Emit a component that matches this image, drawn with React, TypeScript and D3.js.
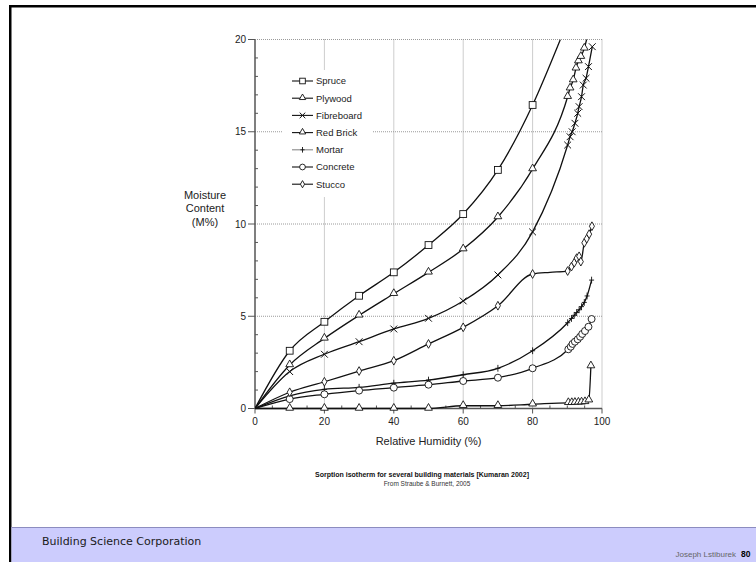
import React from 'react';
import * as d3 from 'd3';

// [relative humidity %, moisture content %, marker shown 1/0]
const spruce: number[][] = [[0,0,0],[10,3.13,1],[20,4.7,1],[30,6.11,1],[40,7.38,1],[50,8.86,1],[60,10.54,1],[70,12.93,1],[80,16.45,1],[88,20,0]];
const plywood: number[][] = [[0,0,0],[10,2.36,1],[20,3.8,1],[30,5.05,1],[40,6.22,1],[50,7.38,1],[60,8.64,1],[70,10.38,1],[80,12.98,1],[90.1,16.9,1],[90.8,17.36,1],[91.7,17.8,1],[92.5,18.44,1],[93.2,18.83,1],[93.9,19.07,1],[94.9,19.52,1],[95.6,20.03,0]];
const fibreboard: number[][] = [[0,0,0],[10,2.0,1],[20,2.94,1],[30,3.62,1],[40,4.31,1],[50,4.89,1],[60,5.83,1],[70,7.24,1],[80,9.57,1],[90.1,14.28,1],[90.8,14.73,1],[91.4,15.0,1],[92.2,15.46,1],[93.0,16.0,1],[93.4,16.36,1],[94.1,16.9,1],[94.6,17.53,1],[95.4,17.9,1],[96.1,18.53,1],[97.2,19.61,1]];
const redBrick: number[][] = [[0,0,0],[10,0,1],[20,0,1],[30,0,1],[40,0,1],[50,0,1],[60,0.15,1],[70,0.15,1],[80,0.23,1],[90.3,0.31,1],[91.3,0.31,1],[92.2,0.32,1],[93.2,0.33,1],[94.1,0.34,1],[95.1,0.36,1],[96.2,0.45,1],[96.8,2.3,1]];
const mortar: number[][] = [[0,0,0],[10,0.69,1],[20,1.04,1],[30,1.15,1],[40,1.37,1],[50,1.54,1],[60,1.83,1],[70,2.18,1],[80,3.13,1],[90.1,4.65,1],[91.2,4.88,1],[92.0,5.05,1],[92.7,5.2,1],[93.4,5.35,1],[94.1,5.52,1],[94.9,5.75,1],[95.7,6.1,1],[97.0,6.96,1]];
const concrete: number[][] = [[0,0,0],[10,0.51,1],[20,0.77,1],[30,0.97,1],[40,1.13,1],[50,1.29,1],[60,1.49,1],[70,1.67,1],[80,2.18,1],[90.3,3.21,1],[91.0,3.35,1],[91.5,3.5,1],[92.2,3.62,1],[93.0,3.75,1],[93.7,3.89,1],[94.3,4.04,1],[95.1,4.2,1],[96.1,4.43,1],[97.0,4.85,1]];
const stucco: number[][] = [[0,0,0],[10,0.88,1],[20,1.45,1],[30,2.03,1],[40,2.59,1],[50,3.5,1],[60,4.4,1],[70,5.57,1],[80,7.29,1],[85,7.38,0],[90.1,7.45,1],[91.2,7.69,1],[92.0,7.9,1],[92.7,8.15,1],[93.4,8.25,1],[93.9,7.96,1],[94.9,8.98,1],[95.6,9.2,1],[96.3,9.45,1],[97.1,9.88,1]];

const seriesNames = ['Spruce','Plywood','Fibreboard','Red Brick','Mortar','Concrete','Stucco'];
const seriesData = [spruce, plywood, fibreboard, redBrick, mortar, concrete, stucco];
const seriesMarkers = ['square','triangle','cross','triangle','plus','circle','diamond'];

const xTicks = [0,20,40,60,80,100];
const yTicks = [0,5,10,15,20];
const xMinor = d3.range(0, 101, 5);
const yMinor = d3.range(0, 21, 1);

const FONT = 'Liberation Sans, Arial, sans-serif';

function Marker({ type, x, y, s = 3.4 }: { type: string; x: number; y: number; s?: number }) {
  const common = { stroke: '#111', strokeWidth: 0.9, fill: '#fff' };
  const k = s / 3.4;
  if (type === 'square') return <rect x={x - s} y={y - s} width={2 * s} height={2 * s} {...common} />;
  if (type === 'circle') return <circle cx={x} cy={y} r={3.5 * k} {...common} />;
  if (type === 'triangle') {
    const p = d3.symbol().type(d3.symbolTriangle).size(26 * k * k)();
    return <path d={p || ''} transform={`translate(${x},${y - 0.5})`} {...common} />;
  }
  if (type === 'diamond') {
    const p = d3.symbol().type(d3.symbolDiamond).size(22 * k * k)();
    return <path d={p || ''} transform={`translate(${x},${y})`} {...common} />;
  }
  if (type === 'cross') {
    return <path d={`M${x - s},${y - s}L${x + s},${y + s}M${x - s},${y + s}L${x + s},${y - s}`} stroke="#111" strokeWidth={1} fill="none" />;
  }
  if (type === 'plus') {
    return <path d={`M${x},${y - s}L${x},${y + s}M${x - 2.5 * k},${y}L${x + 2.5 * k},${y}`} stroke="#111" strokeWidth={0.9} fill="none" />;
  }
  return null;
}

export default function App() {
  const W = 756, H = 562;
  const x = d3.scaleLinear().domain([0, 100]).range([255, 602]);
  const y = d3.scaleLinear().domain([0, 20]).range([408.5, 39.5]);
  const line = d3.line<number[]>().x(d => x(d[0])).y(d => y(d[1])).curve(d3.curveMonotoneX);

  const legendX = 292, legendY0 = 81, legendDy = 17.2;

  return (
    <svg width={W} height={H} style={{ position: 'absolute', left: 0, top: 0, background: '#fff' }} fontFamily={FONT}>
      <defs>
        <clipPath id="plotclip">
          <rect x={x(0)} y={y(20)} width={x(100) - x(0) + 6} height={y(0) - y(20) + 4} />
        </clipPath>
      </defs>
      <rect x={0} y={0} width={W} height={H} fill="#fff" />
      {/* slide frame */}
      <rect x={9} y={5} width={W - 9} height={2.5} fill="#000" />
      <rect x={9} y={5} width={2.5} height={H - 5} fill="#000" />
      {/* footer */}
      <rect x={11.5} y={527} width={W - 11.5} height={H - 527} fill="#ccccfd" />
      <line x1={11.5} x2={W} y1={527.5} y2={527.5} stroke="#8c8cbf" strokeWidth={1} />
      <text x={42} y={545} fontFamily="DejaVu Sans, Verdana, sans-serif" fontSize={11} fill="#1a1a1a">Building Science Corporation</text>
      <text x={736} y={557} fontFamily={FONT} fontSize={8} fill="#666" textAnchor="end">Joseph Lstiburek</text>
      <text x={741} y={557} fontFamily={FONT} fontSize={8.5} fontWeight="bold" fill="#000">80</text>

      {/* grid */}
      {xTicks.filter(t => t > 0).map(t => (
        <line key={'gx' + t} x1={x(t)} x2={x(t)} y1={y(0)} y2={y(20)} stroke="#9a9a9a" strokeWidth={1} strokeDasharray="1,1" />
      ))}
      {yTicks.filter(t => t > 0).map(t => (
        <line key={'gy' + t} x1={x(0)} x2={x(100)} y1={y(t)} y2={y(t)} stroke="#9a9a9a" strokeWidth={1} strokeDasharray="1,1" />
      ))}
      {/* legend background */}
      <rect x={283} y={70} width={90} height={127} fill="#fff" />

      {/* axes */}
      <line x1={x(0)} x2={x(0)} y1={y(0)} y2={y(20)} stroke="#555" strokeWidth={1.5} />
      <line x1={x(0)} x2={x(100)} y1={y(0)} y2={y(0)} stroke="#555" strokeWidth={1.5} />
      {yMinor.filter(t => t % 5 !== 0).map(t => (
        <line key={'ym' + t} x1={x(0)} x2={x(0) + 3} y1={y(t)} y2={y(t)} stroke="#555" strokeWidth={1} />
      ))}
      {yTicks.map(t => (
        <g key={'yt' + t}>
          <line x1={x(0) - 7} x2={x(0)} y1={y(t)} y2={y(t)} stroke="#555" strokeWidth={1} />
          <text x={x(0) - 9} y={y(t)} dy="0.35em" textAnchor="end" fontSize={10} fill="#222">{t}</text>
        </g>
      ))}
      {xMinor.filter(t => t % 20 !== 0).map(t => (
        <line key={'xm' + t} x1={x(t)} x2={x(t)} y1={y(0)} y2={y(0) - 3} stroke="#555" strokeWidth={1} />
      ))}
      {xTicks.map(t => (
        <g key={'xt' + t}>
          <line x1={x(t)} x2={x(t)} y1={y(0)} y2={y(0) + 5} stroke="#555" strokeWidth={1} />
          <text x={x(t)} y={y(0) + 13} dy="0.35em" textAnchor="middle" fontSize={10} fill="#222">{t}</text>
        </g>
      ))}

      {/* axis titles */}
      <text x={x(50)} y={441} dy="0.35em" textAnchor="middle" fontSize={11} fill="#222">Relative Humidity (%)</text>
      <g fontSize={11} fill="#222" textAnchor="middle">
        <text x={205} y={195} dy="0.35em">Moisture</text>
        <text x={205} y={208.5} dy="0.35em">Content</text>
        <text x={205} y={222} dy="0.35em">(M%)</text>
      </g>

      {/* series */}
      <g clipPath="url(#plotclip)">
        {seriesData.map((d, i) => (
          <path key={'l' + i} d={line(d) || ''} fill="none" stroke="#111" strokeWidth={1.3} />
        ))}
      </g>
      {seriesData.map((d, i) => (
        <g key={'m' + i}>
          {d.filter(p => p[2] === 1).map((p, j) => (
            <Marker key={j} type={seriesMarkers[i]} x={x(p[0])} y={y(p[1])} />
          ))}
        </g>
      ))}

      {/* legend */}
      {seriesNames.map((n, i) => {
        const ly = legendY0 + i * legendDy;
        return (
          <g key={'lg' + i}>
            <line x1={legendX} x2={legendX + 21} y1={ly} y2={ly} stroke={n === 'Mortar' ? '#888' : '#111'} strokeWidth={1.1} />
            <Marker type={seriesMarkers[i]} x={legendX + 10.5} y={ly} s={2.8} />
            <text x={legendX + 24} y={ly} dy="0.35em" fontSize={9.5} fill="#222">{n}</text>
          </g>
        );
      })}

      {/* caption */}
      <text x={422} y={475} dy="0.35em" textAnchor="middle" fontSize={7} fontWeight="bold" fill="#111">Sorption isotherm for several building materials [Kumaran 2002]</text>
      <text x={427} y={484} dy="0.35em" textAnchor="middle" fontSize={6.5} fill="#333">From Straube &amp; Burnett, 2005</text>
    </svg>
  );
}
